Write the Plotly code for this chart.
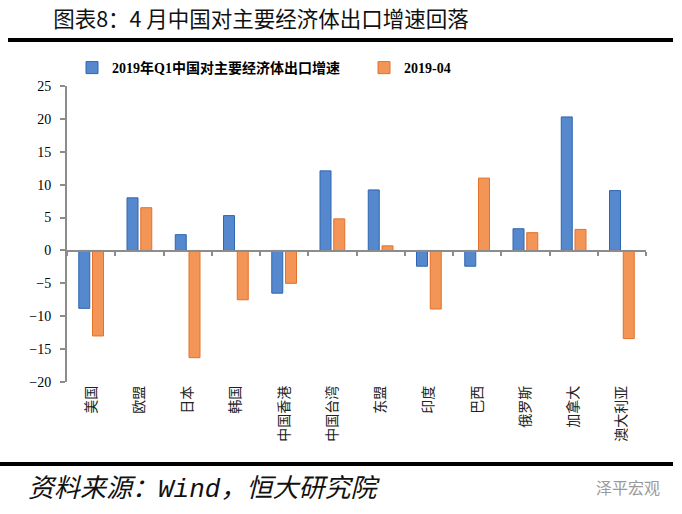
import plotly.graph_objects as go

categories = ["美国", "欧盟", "日本", "韩国", "中国香港", "中国台湾", "东盟", "印度", "巴西", "俄罗斯", "加拿大", "澳大利亚"]
q1_2019 = [-8.8, 8.0, 2.4, 5.3, -6.5, 12.1, 9.2, -2.4, -2.4, 3.3, 20.3, 9.1]
apr_2019 = [-13.0, 6.5, -16.3, -7.5, -5.0, 4.8, 0.7, -8.9, 11.0, 2.7, 3.2, -13.4]
series_names = ["2019年Q1中国对主要经济体出口增速", "2019-04"]
y_ticks = [-20, -15, -10, -5, 0, 5, 10, 15, 20, 25]

W, H = 682, 514
L, R, T, B = 67, 36, 86, 132
pw, ph = W - L - R, H - T - B

def px_x(px):
    return (px - L) / pw

def px_y(py):
    return (H - B - py) / ph

serif = "Liberation Serif, Noto Sans CJK SC, serif"
gray = "#8c8c8c"

fig = go.Figure()
fig.add_trace(go.Bar(
    x=categories, y=q1_2019, name=series_names[0], legend="legend",
    marker=dict(color="#5688CE", line=dict(color="#2F66B3", width=1)),
))
fig.add_trace(go.Bar(
    x=categories, y=apr_2019, name=series_names[1], legend="legend2",
    marker=dict(color="#F29556", line=dict(color="#E2722A", width=1)),
))
# invisible helper trace for the category axis drawn at zero
fig.add_trace(go.Scatter(
    x=categories, y=[None] * len(categories), xaxis="x2", yaxis="y2",
    showlegend=False, hoverinfo="skip", mode="markers",
))

zero_frac = (0 - y_ticks[0]) / (y_ticks[-1] - y_ticks[0])

legend_font = dict(family=serif, size=14, color="black", weight="bold")

fig.update_layout(
    width=W, height=H,
    margin=dict(l=L, r=R, t=T, b=B, autoexpand=False),
    paper_bgcolor="white", plot_bgcolor="rgba(0,0,0,0)",
    barmode="group", bargap=0.43, bargroupgap=0.2,
    title=dict(
        text="图表8：4 月中国对主要经济体出口增速回落",
        x=261 / W, xanchor="center", y=1 - 19 / H, yanchor="middle",
        font=dict(family="Noto Sans CJK SC", size=21.5, color="#111111"),
    ),
    legend=dict(
        orientation="h", x=px_x(72), xanchor="left", y=px_y(68), yanchor="middle",
        font=legend_font, itemwidth=30, bgcolor="rgba(0,0,0,0)",
    ),
    legend2=dict(
        orientation="h", x=px_x(364), xanchor="left", y=px_y(68), yanchor="middle",
        font=legend_font, itemwidth=30, bgcolor="rgba(0,0,0,0)",
    ),
    xaxis=dict(
        type="category", showline=False, ticks="", showgrid=False, zeroline=False,
        tickangle=-90, tickfont=dict(family="Noto Sans CJK SC", size=14, color="#222222"),
        range=[-0.5, len(categories) - 0.5],
    ),
    yaxis=dict(
        range=[y_ticks[0], y_ticks[-1]], tickvals=y_ticks, showgrid=False, zeroline=False,
        showline=True, linecolor=gray, linewidth=2, ticks="outside", ticklen=5,
        tickcolor=gray, tickwidth=2, ticklabelstandoff=6,
        tickfont=dict(family=serif, size=14, color="black"),
    ),
    xaxis2=dict(
        type="category", anchor="y2", showline=True, linecolor=gray, linewidth=2,
        ticks="outside", tickson="boundaries", ticklen=4, tickcolor=gray, tickwidth=2,
        showticklabels=False, showgrid=False, zeroline=False,
        range=[-0.5, len(categories) - 0.5],
    ),
    yaxis2=dict(
        domain=[zero_frac, 1], anchor="x2", visible=False, range=[0, 1],
    ),
    shapes=[
        dict(type="line", xref="paper", yref="paper", x0=px_x(8), x1=px_x(673),
             y0=px_y(40), y1=px_y(40), line=dict(color="black", width=4)),
        dict(type="line", xref="paper", yref="paper", x0=px_x(0), x1=px_x(673),
             y0=px_y(464), y1=px_y(464), line=dict(color="black", width=4)),
    ],
    annotations=[
        dict(text="<i>资料来源：Wind，恒大研究院</i>", xref="paper", yref="paper",
             x=px_x(26), y=px_y(489), xanchor="left", yanchor="middle", showarrow=False,
             font=dict(family="Liberation Mono, Noto Sans CJK SC", size=26, color="#111111")),
        dict(text="泽平宏观", xref="paper", yref="paper",
             x=px_x(662), y=px_y(487), xanchor="right", yanchor="middle", showarrow=False,
             font=dict(family="Noto Sans CJK SC", size=16, color="#9a9a9a")),
    ],
)

fig.write_html("out.html", config={"displayModeBar": False},
               post_script="document.body.style.margin='0';")
